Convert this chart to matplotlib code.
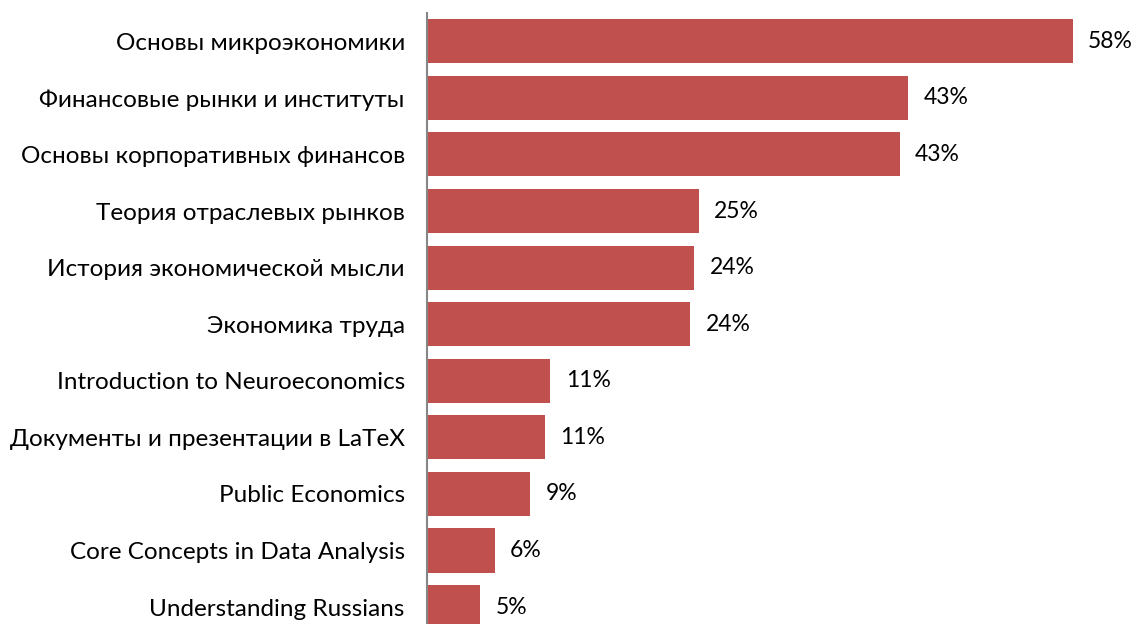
import matplotlib
matplotlib.use("Agg")
import matplotlib.pyplot as plt

categories = [
    "Основы микроэкономики",
    "Финансовые рынки и институты",
    "Основы корпоративных финансов",
    "Теория отраслевых рынков",
    "История экономической мысли",
    "Экономика труда",
    "Introduction to Neuroeconomics",
    "Документы и презентации в LaTeX",
    "Public Economics",
    "Core Concepts in Data Analysis",
    "Understanding Russians",
]
values = [58.2, 43.4, 42.6, 24.5, 24.1, 23.7, 11.1, 10.6, 9.3, 6.1, 4.8]
labels = ["58%", "43%", "43%", "25%", "24%", "24%", "11%", "11%", "9%", "6%", "5%"]

plt.rcParams['font.family'] = ['Lato', 'DejaVu Sans']

W, H = 1137, 624
fig = plt.figure(figsize=(W / 100, H / 100), dpi=100)
ax = fig.add_axes([427 / W, 0, (W - 427) / W, (H - 13) / H])

y = list(range(len(categories)))
ax.barh(y, values, height=0.78, color="#C0504D", edgecolor="none")
for yi, v, lab in zip(y, values, labels):
    ax.text(v + 1.4, yi, lab, va="center", ha="left", fontsize=16.5, color="black")

ax.set_xlim(0, 64)
ax.set_ylim(10.30, -0.5)
ax.set_yticks(y)
ax.set_yticklabels(categories, fontsize=17.5)
ax.tick_params(axis="y", length=0, pad=16)
ax.set_xticks([])
for s in ["top", "right", "bottom"]:
    ax.spines[s].set_visible(False)
ax.spines["left"].set_color("#868686")
ax.spines["left"].set_linewidth(1.5)

fig.savefig("out.png", dpi=100)
